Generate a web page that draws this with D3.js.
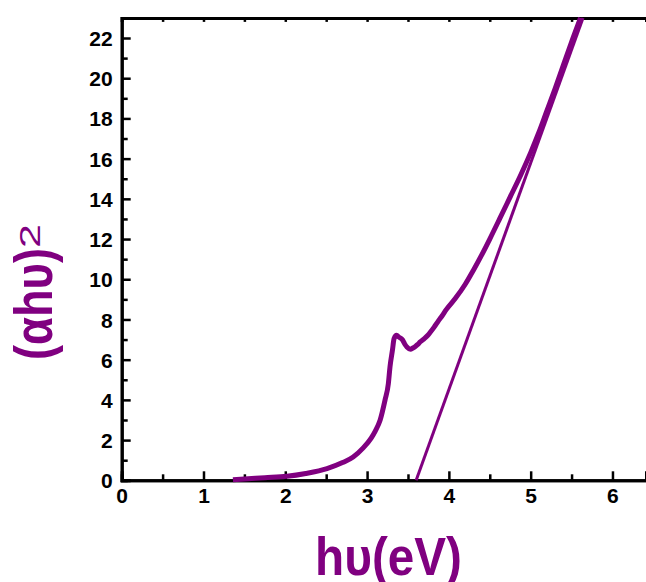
<!DOCTYPE html>
<html>
<head>
<meta charset="utf-8">
<script src="https://cdn.jsdelivr.net/npm/d3@7"></script>
<style>
  body { margin: 0; background: #fff; }
  svg text { font-family: "Liberation Sans", Arial, sans-serif; font-weight: bold; }
</style>
</head>
<body>
<div class="canvas"></div>
<script>
// measured curve (αhυ)^2 vs photon energy
const energy = [1.36, 1.5, 1.75, 2.02, 2.25, 2.51, 2.7, 2.83, 2.95, 3.05, 3.1, 3.16, 3.22, 3.26, 3.28, 3.31, 3.33, 3.36, 3.39, 3.43, 3.46, 3.49, 3.53, 3.56, 3.59, 3.62, 3.65, 3.7, 3.74, 3.77, 3.82, 3.87, 3.92, 3.97, 4.08, 4.2, 4.3, 4.4, 4.5, 4.62, 4.75, 4.88, 5.0, 5.1, 5.2, 5.3, 5.4, 5.5, 5.61];
const absorb = [0.03, 0.07, 0.13, 0.2, 0.34, 0.58, 0.88, 1.16, 1.6, 2.1, 2.45, 3.0, 4.0, 4.8, 5.64, 6.47, 7.05, 7.22, 7.12, 7.0, 6.78, 6.62, 6.52, 6.58, 6.66, 6.76, 6.89, 7.05, 7.2, 7.35, 7.62, 7.92, 8.2, 8.5, 9.05, 9.75, 10.45, 11.2, 12.0, 13.0, 14.1, 15.2, 16.3, 17.3, 18.4, 19.5, 20.65, 21.8, 23.0];

// linear extrapolation (Tauc fit)
const fitE = [3.6, 5.64];
const fitA = [0, 23];

const xTicks = [0, 1, 2, 3, 4, 5, 6];
const yTicks = [0, 2, 4, 6, 8, 10, 12, 14, 16, 18, 20, 22];

const purple = '#800080';
const W = 646, H = 582;
const m = {left: 121.7, top: 17.9, right: 646, bottom: 480.3};

const svg = d3.select('.canvas')
  .append('svg')
  .attr('width', W)
  .attr('height', H);

const x = d3.scaleLinear().domain([0, 6.41]).range([m.left, m.right]);
const y = d3.scaleLinear().domain([0, 23]).range([m.bottom, m.top]);

// minor tick values
const xMinor = d3.range(0.5, 6.41, 1);
const yMinor = d3.range(1, 23, 2);

// bottom axis
const bottomAxis = svg.append('g').attr('transform', `translate(0,${m.bottom})`);
bottomAxis.call(d3.axisBottom(x).tickValues(xMinor).tickSize(-6).tickFormat(''));
bottomAxis.append('g').call(d3.axisBottom(x).tickValues(xTicks).tickSize(-9).tickPadding(8).tickFormat(d3.format('d')));

// left axis
const leftAxis = svg.append('g').attr('transform', `translate(${m.left},0)`);
leftAxis.call(d3.axisLeft(y).tickValues(yMinor).tickSize(-6).tickFormat(''));
leftAxis.append('g').call(d3.axisLeft(y).tickValues(yTicks).tickSize(-9).tickPadding(9).tickFormat(d3.format('d')));

// top axis, small inward ticks
const topAxis = svg.append('g').attr('transform', `translate(0,${m.top})`);
topAxis.call(d3.axisTop(x).tickValues(d3.range(0.5, 6.41, 0.5)).tickSize(-4).tickFormat(''));

svg.selectAll('.domain').attr('stroke', '#000').attr('stroke-width', 3);
svg.selectAll('.tick line').attr('stroke', '#000').attr('stroke-width', 2.5);
svg.selectAll('.tick text')
  .attr('fill', '#000')
  .style('font-size', '21px');
leftAxis.selectAll('.tick text').attr('dy', '0.36em');

// tangent line
const pts = fitE.map((d, i) => [d, fitA[i]]);
svg.append('path')
  .attr('d', d3.line().x(d => x(d[0])).y(d => y(d[1]))(pts))
  .attr('fill', 'none')
  .attr('stroke', purple)
  .attr('stroke-width', 3);

// data curve
const data = energy.map((d, i) => [d, absorb[i]]);
svg.append('path')
  .attr('d', d3.line().x(d => x(d[0])).y(d => y(d[1])).curve(d3.curveMonotoneX)(data))
  .attr('fill', 'none')
  .attr('stroke', purple)
  .attr('stroke-width', 5)
  .attr('stroke-linejoin', 'round');

// axis titles
svg.append('text')
  .attr('x', 315)
  .attr('y', 575)
  .attr('fill', purple)
  .attr('textLength', 147)
  .attr('lengthAdjust', 'spacingAndGlyphs')
  .style('font-size', '54px')
  .text('hυ(eV)');

svg.append('text')
  .attr('transform', 'translate(52,360) rotate(-90)')
  .attr('fill', purple)
  .attr('textLength', 112)
  .attr('lengthAdjust', 'spacingAndGlyphs')
  .style('font-size', '54px')
  .text('(αhυ)');

svg.append('text')
  .attr('transform', 'translate(40,248) rotate(-90)')
  .attr('fill', purple)
  .attr('textLength', 24)
  .attr('lengthAdjust', 'spacingAndGlyphs')
  .style('font-size', '30px')
  .style('font-weight', 'normal')
  .text('2');
</script>
</body>
</html>
